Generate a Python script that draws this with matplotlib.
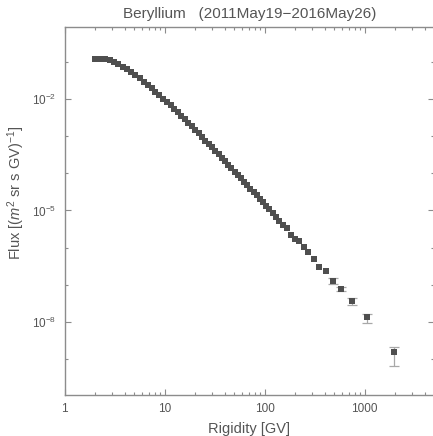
import matplotlib
matplotlib.use("Agg")
import matplotlib.pyplot as plt
from matplotlib.ticker import LogLocator, FixedLocator, NullFormatter

plt.rcParams['font.family'] = ['Liberation Sans', 'DejaVu Sans']
plt.rcParams['mathtext.fontset'] = 'custom'
plt.rcParams['mathtext.rm'] = 'Liberation Sans'
plt.rcParams['mathtext.it'] = 'Liberation Sans:italic'

title = "Beryllium   (2011May19\u22122016May26)"
xlabel = "Rigidity [GV]"
ylabel = r"Flux [($m^2$ sr s GV)$^{-1}$]"

rigidity = [2.03, 2.27, 2.53, 2.82, 3.13, 3.46, 3.83, 4.22, 4.65, 5.12,
            5.63, 6.18, 6.77, 7.42, 8.11, 8.86, 9.67, 10.54, 11.49, 12.49,
            13.54, 14.69, 15.94, 17.29, 18.73, 20.28, 21.93, 23.73, 25.68, 27.73,
            29.93, 32.28, 34.78, 37.47, 40.37, 43.47, 46.77, 50.32, 54.11, 58.16,
            62.51, 67.2, 72.25, 77.65, 83.45, 89.69, 96.4, 103.9, 111.9, 120.4,
            129.9, 140.9, 153.4, 167.3, 183.3, 201.3, 221.7, 245.7, 274.5, 309.9,
            353.7, 408.8, 481.2, 588.6, 750.0, 1050.0, 1990.0]

flux = [0.1245, 0.1238, 0.1199, 0.1120, 0.1021, 0.0896, 0.0767, 0.0649, 0.0538, 0.0444,
        0.0366, 0.0298, 0.0243, 0.0198, 0.01593, 0.01298, 0.01044, 0.00840, 0.00680, 0.00547,
        0.00446, 0.00361, 0.00290, 0.00232, 0.00186, 0.00149, 0.00120, 9.67e-4, 7.69e-4, 6.22e-4,
        5.01e-4, 4.03e-4, 3.26e-4, 2.63e-4, 2.11e-4, 1.71e-4, 1.385e-4, 1.114e-4, 9.08e-5, 7.30e-5,
        5.91e-5, 4.79e-5, 3.88e-5, 3.14e-5, 2.54e-5, 2.04e-5, 1.655e-5, 1.323e-5, 1.064e-5, 8.57e-6,
        6.81e-6, 5.34e-6, 4.06e-6, 3.31e-6, 2.18e-6, 1.65e-6, 1.46e-6, 1.02e-6, 7.46e-7, 4.83e-7,
        3.05e-7, 2.38e-7, 1.28e-7, 7.63e-8, 3.69e-8, 1.32e-8, 1.50e-9]

# errors for the highest-rigidity points (visible outside markers)
err_low = [0.26e-7, 0.9e-8, 0.81e-8, 0.38e-8, 0.85e-9]
err_high = [0.2e-7, 0.9e-8, 0.7e-8, 0.29e-8, 0.62e-9]

xticks = [1, 10, 100, 1000]
xticklabels = ["1", "10", "100", "1000"]
yticks = [1e-2, 1e-5, 1e-8]
yticklabels = [r"$10^{-2}$", r"$10^{-5}$", r"$10^{-8}$"]

W, H = 433, 436
fig = plt.figure(figsize=(W / 100, H / 100), dpi=100)
left_px, right_px, top_px, bot_px = 64.5, 434.4, 26.7, 395.0
ax = fig.add_axes([left_px / W, 1 - bot_px / H, (right_px - left_px) / W, (bot_px - top_px) / H])

n_err = len(err_low)
ax.errorbar(rigidity[-n_err:], flux[-n_err:], yerr=[err_low, err_high], fmt='none',
            ecolor='#a8a8a8', elinewidth=0.9, capsize=3.8, capthick=0.9, zorder=2)
ax.plot(rigidity, flux, linestyle='none', marker='s', markersize=4.2,
        color='#4f4f4f', markeredgewidth=0, zorder=3)

ax.set_xscale('log')
ax.set_yscale('log')
ax.set_xlim(1, 5000)
ax.set_ylim(10 ** -9.98, 10 ** -0.041)

spine_color = '#8c8c8c'
for s in ax.spines.values():
    s.set_color(spine_color)
    s.set_linewidth(1.0)

ax.xaxis.set_major_locator(FixedLocator(xticks))
ax.set_xticklabels(xticklabels)
ax.xaxis.set_minor_locator(LogLocator(base=10, subs=range(2, 10), numticks=20))
ax.xaxis.set_minor_formatter(NullFormatter())

ax.yaxis.set_major_locator(FixedLocator(yticks))
ax.set_yticklabels(yticklabels)
ax.yaxis.set_minor_locator(FixedLocator([1e-1, 1e-3, 1e-4, 1e-6, 1e-7, 1e-9]))
ax.yaxis.set_minor_formatter(NullFormatter())

ax.tick_params(which='both', direction='in', top=True, right=True, color=spine_color,
               labelcolor='#555555', labelsize=8.5, width=0.8)
ax.tick_params(which='major', length=4, pad=6)
ax.tick_params(which='minor', length=2.5)

ax.set_title(title, fontsize=11, color='#555555', pad=6)
ax.set_xlabel(xlabel, fontsize=10.5, color='#555555', labelpad=5)
ax.set_ylabel(ylabel, fontsize=10.5, color='#555555')
ax.yaxis.set_label_coords(-0.102, 0.548)

fig.savefig("out.png", dpi=100)
